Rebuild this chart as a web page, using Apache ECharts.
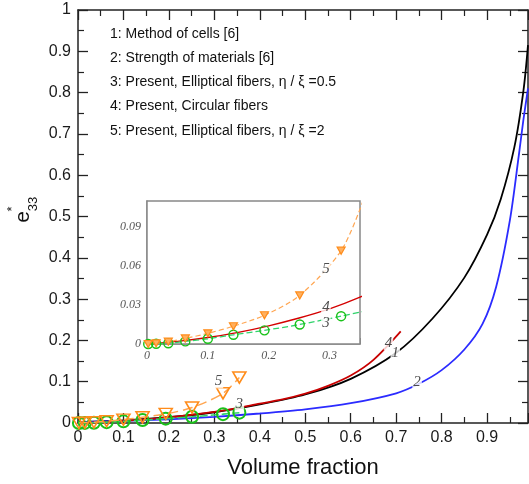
<!DOCTYPE html>
<html><head><meta charset="utf-8">
<script src="https://cdn.jsdelivr.net/npm/echarts@6/dist/echarts.min.js"></script>
<style>html,body{margin:0;padding:0;background:#fff}#c{width:529px;height:484px}</style>
</head><body><div id="c"></div>
<script>
// ---- data ----
const legendLines = [
  '1: Method of cells [6]',
  '2: Strength of materials [6]',
  '3: Present, Elliptical fibers, \u03b7 / \u03be =0.5',
  '4: Present, Circular fibers',
  '5: Present, Elliptical fibers, \u03b7 / \u03be =2'
];
// curve 1: Method of cells
const x1 = [0, 0.1, 0.2, 0.3, 0.4, 0.5, 0.6, 0.7, 0.78, 0.85, 0.9, 0.93, 0.96, 0.98, 0.99];
const y1 = [0.002, 0.006, 0.014, 0.026, 0.045, 0.069, 0.107, 0.17, 0.253, 0.352, 0.456, 0.542, 0.668, 0.805, 0.915];
// curve 2: Strength of materials
const x2 = [0, 0.1, 0.2, 0.3, 0.4, 0.5, 0.6, 0.7, 0.75, 0.8, 0.85, 0.89, 0.92, 0.95, 0.97, 0.98, 0.99];
const y2 = [0.002, 0.005, 0.009, 0.015, 0.023, 0.033, 0.048, 0.072, 0.095, 0.128, 0.178, 0.24, 0.33, 0.49, 0.65, 0.735, 0.81];
// curve 4: Present, circular fibers
const x4 = [0, 0.05, 0.1, 0.15, 0.2, 0.25, 0.3, 0.35, 0.4, 0.45, 0.5, 0.55, 0.6, 0.65, 0.71];
const y4 = [0, 0.002, 0.005, 0.009, 0.014, 0.02, 0.027, 0.036, 0.047, 0.057, 0.071, 0.09, 0.115, 0.153, 0.222];
// curves 3 and 5: marker points
const xm = [0.002, 0.015, 0.035, 0.063, 0.1, 0.142, 0.193, 0.251, 0.319, 0.355];
const y3 = [0, 0.0002, 0.0006, 0.002, 0.004, 0.0071, 0.0105, 0.015, 0.0214, 0.025];
const y5 = [0, 0.0005, 0.0018, 0.0043, 0.0082, 0.0137, 0.0221, 0.0374, 0.0718, 0.11];
// curve number labels [x, y, text]
const mainTags = [[0.309, 0.102, '5'], [0.355, 0.047, '3'], [0.683, 0.194, '4'], [0.698, 0.170, '1'], [0.746, 0.099, '2']];
const insetTags = [[0.294, 0.0578, '5'], [0.294, 0.0285, '4'], [0.294, 0.0158, '3']];

const pairs = (xs, ys) => xs.map((x, i) => [x, ys[i]]);

const chart = echarts.init(document.getElementById('c'));
const serif = '"Liberation Serif","DejaVu Serif",serif';
const sans = '"Liberation Sans",Arial,sans-serif';
const axisCol = '#222';
const insetCol = '#888';
const SM = 0.3;

function mainAxis(pos, showLabel, extra) {
  return Object.assign({
    type: 'value', gridIndex: 0, position: pos,
    axisLine: { show: true, onZero: false, lineStyle: { color: axisCol, width: 1.5 } },
    axisTick: { show: true, inside: true, length: 10, lineStyle: { color: axisCol, width: 1.3 } },
    minorTick: { show: true, splitNumber: 2, length: 6, lineStyle: { color: axisCol, width: 1.2 } },
    splitLine: { show: false }, minorSplitLine: { show: false },
    axisLabel: { show: showLabel, fontSize: 16, fontFamily: sans, color: '#1a1a1a', margin: 7, showMaxLabel: false }
  }, extra);
}
function insetAxis(extra) {
  return Object.assign({
    type: 'value', gridIndex: 1,
    axisLine: { show: true, onZero: false, lineStyle: { color: insetCol, width: 1.5 } },
    axisTick: { show: true, inside: true, length: 6, lineStyle: { color: insetCol, width: 1 } },
    minorTick: { show: true, length: 3.5, lineStyle: { color: insetCol, width: 1 } },
    splitLine: { show: false }, minorSplitLine: { show: false },
    axisLabel: { fontSize: 12, fontFamily: serif, fontStyle: 'italic', color: '#555', margin: 6, showMaxLabel: false }
  }, extra);
}

const tagSeries = (tags, xi, yi, size) => ({
  type: 'scatter', xAxisIndex: xi, yAxisIndex: yi, symbolSize: 0, silent: true, z: 10,
  data: tags.map(t => ({ value: [t[0], t[1]], name: t[2] })),
  label: { show: true, position: 'inside', formatter: '{b}', fontFamily: serif, fontStyle: 'italic',
           fontSize: size, color: '#222', backgroundColor: '#fff', padding: [0, 1] }
});

const orange = '#ff8c1a', orangeLine = '#ffa652', green = '#19c219', greenLine = '#2fd36a';

chart.setOption({
  animation: false,
  backgroundColor: '#fff',
  grid: [
    { left: 78, right: 1, top: 10, bottom: 59, show: false },
    { left: 147, top: 201, width: 213, height: 143, show: true, backgroundColor: '#fff', borderColor: insetCol, borderWidth: 1.5, z: 1 }
  ],
  xAxis: [
    mainAxis('bottom', true, { min: 0, max: 0.99, interval: 0.1,
      name: 'Volume fraction', nameLocation: 'middle', nameGap: 34,
      nameTextStyle: { fontSize: 22, fontFamily: sans, color: '#111' },
      axisLabel: { show: true, fontSize: 16, fontFamily: sans, color: '#1a1a1a', margin: 7, showMaxLabel: false,
        formatter: v => (Math.round(v * 10) / 10).toString() } }),
    mainAxis('top', false, { min: 0, max: 0.99, interval: 0.1 }),
    insetAxis({ min: 0, max: 0.35, interval: 0.1, minorTick: { show: true, splitNumber: 4, length: 3.5, lineStyle: { color: insetCol, width: 1 } },
      axisLabel: { fontSize: 12, fontFamily: serif, fontStyle: 'italic', color: '#555', margin: 6, showMaxLabel: false,
        formatter: v => (Math.round(v * 10) / 10).toString() } })
  ],
  yAxis: [
    mainAxis('left', true, { min: 0, max: 1, interval: 0.1,
      axisLabel: { show: true, fontSize: 16, fontFamily: sans, color: '#1a1a1a', margin: 7,
        formatter: v => (Math.round(v * 10) / 10).toString() } }),
    mainAxis('right', false, { min: 0, max: 1, interval: 0.1 }),
    insetAxis({ min: 0, max: 0.11, interval: 0.03, minorTick: { show: true, splitNumber: 2, length: 3.5, lineStyle: { color: insetCol, width: 1 } },
      axisLabel: { fontSize: 12, fontFamily: serif, fontStyle: 'italic', color: '#555', margin: 6, showMaxLabel: false,
        formatter: v => (Math.round(v * 100) / 100).toString() } })
  ],
  series: [
    { type: 'line', xAxisIndex: 0, yAxisIndex: 0, data: pairs(x1, y1), smooth: SM, showSymbol: false,
      lineStyle: { color: '#000', width: 1.8 }, z: 3 },
    { type: 'line', xAxisIndex: 0, yAxisIndex: 0, data: pairs(x2, y2), smooth: SM, showSymbol: false,
      lineStyle: { color: '#2b2bff', width: 1.8 }, z: 3 },
    { type: 'line', xAxisIndex: 0, yAxisIndex: 0, data: pairs(x4, y4), smooth: SM, showSymbol: false,
      lineStyle: { color: '#c80000', width: 1.8 }, z: 3 },
    { type: 'line', xAxisIndex: 0, yAxisIndex: 0, data: pairs(xm, y3), smooth: SM,
      symbol: 'circle', symbolSize: 12, showAllSymbol: true,
      itemStyle: { color: 'rgba(255,255,255,0)', borderColor: green, borderWidth: 2 },
      lineStyle: { color: greenLine, width: 1.6, type: [8, 3] }, z: 4 },
    { type: 'line', xAxisIndex: 0, yAxisIndex: 0, data: pairs(xm, y5), smooth: SM,
      symbol: 'triangle', symbolRotate: 180, symbolSize: [13, 11], showAllSymbol: true,
      itemStyle: { color: 'rgba(255,255,255,0)', borderColor: orange, borderWidth: 1.6 },
      lineStyle: { color: orangeLine, width: 1.5, type: [10, 5] }, z: 5 },
    // inset
    { type: 'line', xAxisIndex: 2, yAxisIndex: 2, data: pairs(x4, y4), smooth: SM, showSymbol: false,
      lineStyle: { color: '#d40000', width: 1.3 }, z: 6 },
    { type: 'line', xAxisIndex: 2, yAxisIndex: 2, data: pairs(xm, y3), smooth: SM,
      symbol: 'circle', symbolSize: 9, showAllSymbol: true,
      itemStyle: { color: 'rgba(255,255,255,0)', borderColor: green, borderWidth: 1.4 },
      lineStyle: { color: greenLine, width: 1.3, type: [6, 3] }, z: 6 },
    { type: 'line', xAxisIndex: 2, yAxisIndex: 2, data: pairs(xm, y5), smooth: SM,
      symbol: 'triangle', symbolRotate: 180, symbolSize: [8, 7], showAllSymbol: true,
      itemStyle: { color: '#ffb060', borderColor: orange, borderWidth: 1.2 },
      lineStyle: { color: orangeLine, width: 1.2, type: [5, 3] }, z: 6 },
    tagSeries(mainTags, 0, 0, 15),
    tagSeries(insetTags, 2, 2, 15)
  ],
  graphic: [
    ...legendLines.map((t, i) => ({
      type: 'text', left: 110, top: 27 + i * 24.2, z: 20, silent: true,
      style: { text: t, font: '14px ' + sans, fill: '#111' }
    })),
    { type: 'text', x: 23, y: 217, rotation: Math.PI / 2, silent: true,
      style: { text: 'e', font: '21px ' + sans, fill: '#111', textAlign: 'center', textVerticalAlign: 'middle' } },
    { type: 'text', x: 33, y: 204, rotation: Math.PI / 2, silent: true,
      style: { text: '33', font: '13px ' + sans, fill: '#111', textAlign: 'center', textVerticalAlign: 'middle' } },
    { type: 'text', x: 12, y: 209, rotation: Math.PI / 2, silent: true,
      style: { text: '*', font: '13px ' + sans, fill: '#111', textAlign: 'center', textVerticalAlign: 'middle' } }
  ]
});
</script></body></html>
